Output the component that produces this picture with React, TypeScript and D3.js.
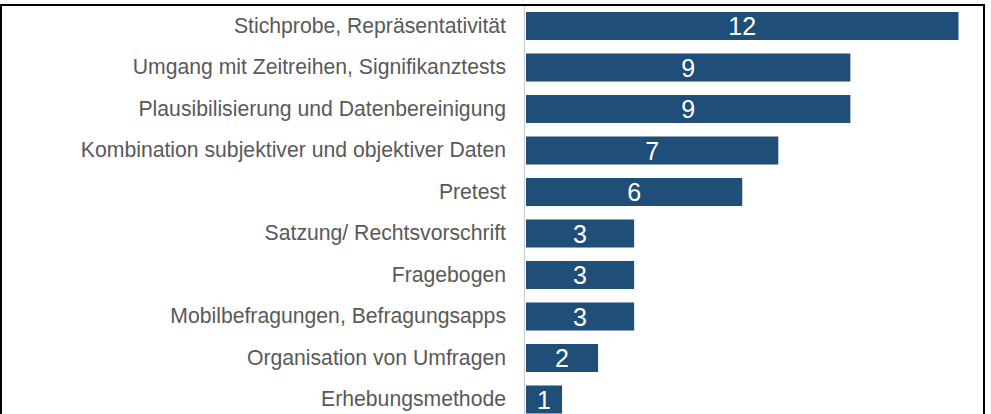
import React from "react";
import * as d3 from "d3";

const categories: string[] = [
  "Stichprobe, Repräsentativität",
  "Umgang mit Zeitreihen, Signifikanztests",
  "Plausibilisierung und Datenbereinigung",
  "Kombination subjektiver und objektiver Daten",
  "Pretest",
  "Satzung/ Rechtsvorschrift",
  "Fragebogen",
  "Mobilbefragungen, Befragungsapps",
  "Organisation von Umfragen",
  "Erhebungsmethode",
];
const values: number[] = [12, 9, 9, 7, 6, 3, 3, 3, 2, 1];

const W = 991;
const H = 414;

export default function App() {
  const x = d3.scaleLinear().domain([0, 12]).range([526, 958.5]);
  const y = d3
    .scaleBand<string>()
    .domain(categories)
    .range([5.25, 420.25])
    .paddingInner(0.325)
    .paddingOuter(0.1625);
  const font = "'Liberation Sans', Arial, Helvetica, sans-serif";
  return (
    <svg
      width={W}
      height={H}
      style={{ position: "absolute", left: 0, top: 0, display: "block", background: "#fff" }}
    >
      <rect x={0} y={0} width={W} height={H} fill="#fff" />
      {categories.map((c, i) => {
        const yy = y(c)!;
        const bw = y.bandwidth();
        return (
          <g key={c}>
            <rect
              x={x(0)}
              y={yy}
              width={x(values[i]) - x(0)}
              height={bw}
              fill="#1F4E79"
            />
            <text
              x={(x(0) + x(values[i])) / 2}
              y={yy + bw / 2}
              dy="0.36em"
              textAnchor="middle"
              fill="#ffffff"
              fontFamily={font}
              fontSize={25}
            >
              {values[i]}
            </text>
            <text
              x={506}
              y={yy + bw / 2}
              dy="0.33em"
              textAnchor="end"
              fill="#595959"
              fontFamily={font}
              fontSize={21.2}
            >
              {c}
            </text>
          </g>
        );
      })}
      <line x1={524.5} x2={524.5} y1={5} y2={H} stroke="#d0d0d0" strokeWidth={1.3} />
      <rect x={1} y={5} width={983} height={H + 10} fill="none" stroke="#000" strokeWidth={2} />
    </svg>
  );
}
